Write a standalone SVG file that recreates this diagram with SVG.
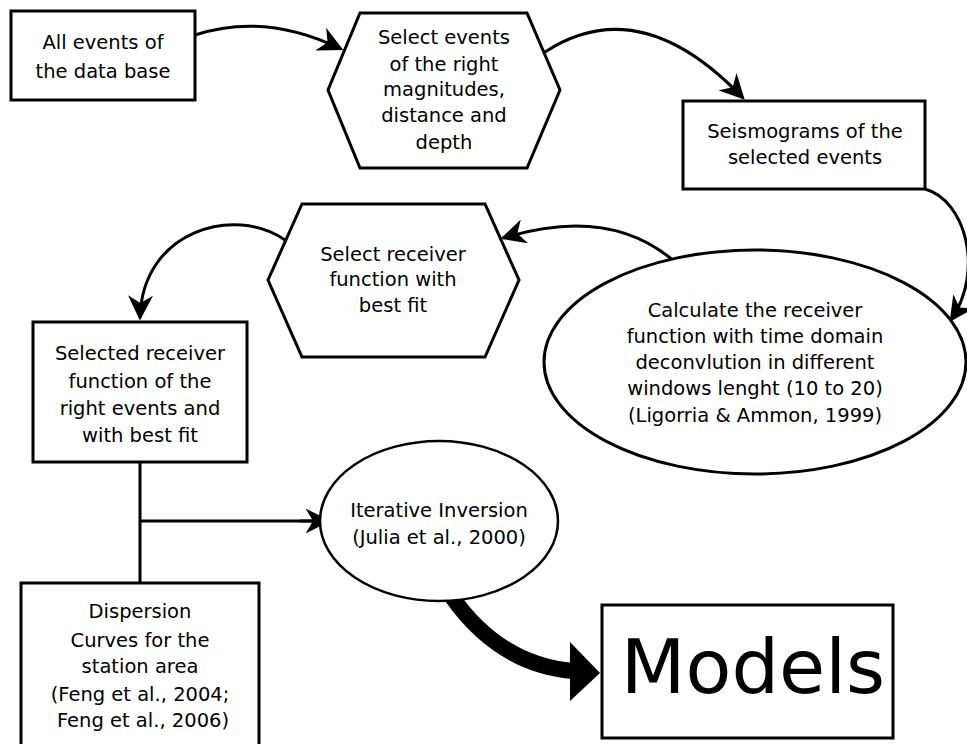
<svg xmlns="http://www.w3.org/2000/svg" width="967" height="744" viewBox="0 0 967 744">
<style>
.s{fill:#fff;stroke:#000;stroke-width:3}
.t{font-family:"DejaVu Sans",sans-serif;font-size:19.5px;fill:#000;text-anchor:middle}
.c{fill:none;stroke:#000;stroke-width:3}
</style>
<defs>
<marker id="ah" viewBox="0 0 10 10" refX="9" refY="5" markerWidth="25" markerHeight="25" markerUnits="userSpaceOnUse" orient="auto">
<path d="M0,0 L10,5 L0,10 L3,5 Z" fill="#000"/>
</marker>
</defs>
<rect width="967" height="744" fill="#fff"/>
<g id="connectors">
<path class="c" d="M195,35 Q265,12 341,49" marker-end="url(#ah)"/>
<path class="c" d="M545,52 Q640,-10 743,98" marker-end="url(#ah)"/>
<path class="c" d="M925,189 C965,200 985,270 951,320" marker-end="url(#ah)"/>
<path class="c" d="M675,262 Q610,205 503,238" marker-end="url(#ah)"/>
<path class="c" d="M285,240 C235,205 142,230 140,318" marker-end="url(#ah)"/>
<path class="c" d="M140,462 V582 M140,521 H326"/>
<path class="c" d="M300,521 H328" marker-end="url(#ah)"/>
<path fill="none" stroke="#000" stroke-width="16" d="M452,597 Q500,665 574,671"/>
<path d="M570,642 L600,673 L570,701 Z" fill="#000"/>
</g>
<g id="n1">
<rect class="s" x="11" y="11" width="184" height="89"/>
<text class="t" x="103" y="49">All events of</text>
<text class="t" x="103" y="78">the data base</text>
</g>
<g id="n2">
<polygon class="s" points="360,13 527,13 560,90 527,168 360,168 328,90"/>
<text class="t" x="444" y="44">Select events</text>
<text class="t" x="444" y="71">of the right</text>
<text class="t" x="444" y="96">magnitudes,</text>
<text class="t" x="444" y="122">distance and</text>
<text class="t" x="444" y="149">depth</text>
</g>
<g id="n3">
<rect class="s" x="683" y="101" width="242" height="88"/>
<text class="t" x="805" y="138">Seismograms of the</text>
<text class="t" x="805" y="164">selected events</text>
</g>
<g id="n4">
<ellipse class="s" cx="755" cy="362" rx="211" ry="112"/>
<text class="t" x="755" y="317">Calculate the receiver</text>
<text class="t" x="755" y="343">function with time domain</text>
<text class="t" x="755" y="369">deconvlution in different</text>
<text class="t" x="755" y="395">windows lenght (10 to 20)</text>
<text class="t" x="755" y="422">(Ligorria &amp; Ammon, 1999)</text>
</g>
<g id="n5">
<polygon class="s" points="302,204 485,204 519,280 485,357 302,357 268,280"/>
<text class="t" x="393" y="261">Select receiver</text>
<text class="t" x="393" y="286">function with</text>
<text class="t" x="393" y="312">best fit</text>
</g>
<g id="n6">
<rect class="s" x="33" y="322" width="214" height="140"/>
<text class="t" x="140" y="360">Selected receiver</text>
<text class="t" x="140" y="388">function of the</text>
<text class="t" x="140" y="415">right events and</text>
<text class="t" x="140" y="442">with best fit</text>
</g>
<g id="n7">
<ellipse class="s" cx="439" cy="521" rx="119" ry="80" style="stroke-width:2.5"/>
<text class="t" x="439" y="517">Iterative Inversion</text>
<text class="t" x="439" y="544">(Julia et al., 2000)</text>
</g>
<g id="n8">
<rect class="s" x="21" y="583" width="238" height="170"/>
<text class="t" x="140" y="618">Dispersion</text>
<text class="t" x="140" y="647">Curves for the</text>
<text class="t" x="140" y="673">station area</text>
<text class="t" x="140" y="701">(Feng et al., 2004;</text>
<text class="t" x="143" y="727">Feng et al., 2006)</text>
</g>
<g id="n9">
<rect class="s" x="602" y="605" width="291" height="133"/>
<text class="t" x="753" y="693" style="font-size:75px">Models</text>
</g>
</svg>
